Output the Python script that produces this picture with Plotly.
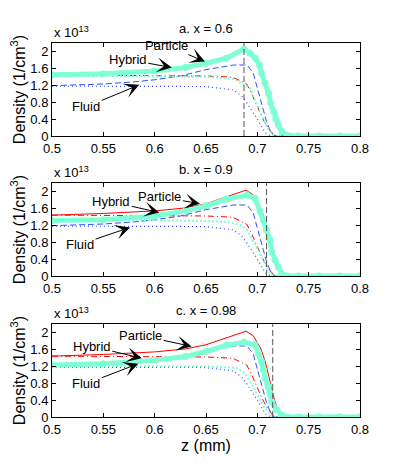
import plotly.graph_objects as go
from plotly.subplots import make_subplots

# Density profiles, units of 1e13 cm^-3

# particle model (red solid), same in every panel
particle_z = [0.5, 0.55, 0.6, 0.63, 0.65, 0.67, 0.689, 0.696, 0.703, 0.7075, 0.711, 0.714, 0.717, 0.72, 0.725, 0.73, 0.8]
particle_n = [1.44, 1.48, 1.54, 1.61, 1.71, 1.88, 2.03, 1.92, 1.64, 1.33, 0.97, 0.66, 0.38, 0.18, 0.02, 0.0, 0.0]

# particle second profile (red dash-dot)
particle2_z = [0.5, 0.6, 0.65, 0.676, 0.6896, 0.6945, 0.6994, 0.7042, 0.709, 0.714, 0.718, 0.8]
particle2_n = [1.44, 1.43, 1.42, 1.39, 1.23, 1.0, 0.72, 0.46, 0.24, 0.08, 0.01, 0.0]

# fluid model (blue dashed)
fluid_z = [0.5, 0.55, 0.58, 0.6, 0.625, 0.65, 0.677, 0.69, 0.696, 0.6994, 0.7026, 0.7058, 0.709, 0.7123, 0.7156, 0.72, 0.8]
fluid_n = [1.19, 1.23, 1.28, 1.33, 1.42, 1.57, 1.68, 1.68, 1.49, 1.21, 0.93, 0.62, 0.34, 0.14, 0.02, 0.0, 0.0]

# fluid second profile (blue dotted)
fluid2_z = [0.5, 0.6, 0.65, 0.6766, 0.6847, 0.6896, 0.6945, 0.6994, 0.7042, 0.7075, 0.711, 0.715, 0.8]
fluid2_n = [1.18, 1.18, 1.17, 1.09, 0.95, 0.79, 0.62, 0.42, 0.23, 0.08, 0.02, 0.0, 0.0]

# hybrid model (thick aquamarine markers), one per panel
hybrid_a_z = [0.5, 0.55, 0.6, 0.63, 0.65, 0.67, 0.687, 0.693, 0.698, 0.702, 0.704, 0.7075, 0.711, 0.713, 0.716, 0.718, 0.7205, 0.724, 0.729, 0.74, 0.76, 0.78, 0.8]
hybrid_a_n = [1.45, 1.47, 1.54, 1.62, 1.72, 1.84, 2.06, 1.96, 1.84, 1.68, 1.49, 1.25, 1.01, 0.78, 0.58, 0.40, 0.26, 0.10, 0.02, 0.0, 0.0, 0.0, 0.0]
hybrid_b_z = [0.5, 0.55, 0.6, 0.63, 0.65, 0.67, 0.69, 0.6977, 0.7026, 0.7058, 0.709, 0.7123, 0.714, 0.7172, 0.7204, 0.7237, 0.7286, 0.74, 0.76, 0.78, 0.8]
hybrid_b_n = [1.31, 1.33, 1.42, 1.54, 1.66, 1.82, 1.91, 1.84, 1.53, 1.33, 1.09, 0.85, 0.58, 0.38, 0.21, 0.06, 0.0, 0.0, 0.0, 0.0, 0.0]
hybrid_c_z = [0.5, 0.55, 0.6, 0.63, 0.65, 0.67, 0.687, 0.6977, 0.701, 0.704, 0.706, 0.7075, 0.7107, 0.7123, 0.714, 0.7188, 0.7237, 0.729, 0.74, 0.76, 0.78, 0.8]
hybrid_c_n = [1.23, 1.26, 1.34, 1.43, 1.55, 1.70, 1.77, 1.71, 1.51, 1.31, 1.12, 0.92, 0.72, 0.56, 0.36, 0.17, 0.05, 0.0, 0.0, 0.0, 0.0, 0.0]

# hybrid second profile (small aquamarine dots), one per panel
hybrid2_a_z = [0.5, 0.6, 0.65, 0.677, 0.693, 0.6977, 0.7026, 0.7075, 0.7123, 0.716, 0.8]
hybrid2_a_n = [1.43, 1.42, 1.40, 1.35, 1.13, 0.85, 0.58, 0.30, 0.10, 0.01, 0.0]
hybrid2_b_z = [0.5, 0.6, 0.65, 0.67, 0.683, 0.6896, 0.6945, 0.6994, 0.7042, 0.709, 0.7123, 0.716, 0.8]
hybrid2_b_n = [1.32, 1.32, 1.30, 1.28, 1.21, 1.09, 0.89, 0.66, 0.42, 0.21, 0.06, 0.0, 0.0]
hybrid2_c_z = [0.5, 0.6, 0.65, 0.6799, 0.688, 0.6929, 0.6977, 0.7026, 0.7075, 0.7123, 0.716, 0.8]
hybrid2_c_n = [1.21, 1.21, 1.20, 1.16, 1.04, 0.84, 0.64, 0.40, 0.21, 0.07, 0.0, 0.0]

panel_titles = ["a. x = 0.6", "b. x = 0.9", "c. x = 0.98"]
marker_z = [0.687, 0.709, 0.715]   # vertical dashed lines

x_ticks = [0.5, 0.55, 0.6, 0.65, 0.7, 0.75, 0.8]
x_ticktext = ["0.5", "0.55", "0.6", "0.65", "0.7", "0.75", "0.8"]
y_ticks = [0, 0.4, 0.8, 1.2, 1.6, 2.0]
y_ticktext = ["0", "0.4", "0.8", "1.2", "1.6", "2"]

# label arrows: (text, tip z, tip n, dx, dy)
labels = [
    [("Particle", 0.649, 1.76, -38, -16), ("Hybrid", 0.6166, 1.62, -44, -8), ("Fluid", 0.585, 1.21, -53, 22)],
    [("Particle", 0.6441, 1.71, -40, -7), ("Hybrid", 0.6045, 1.50, -48, -11), ("Fluid", 0.576, 1.15, -50, 17)],
    [("Particle", 0.636, 1.67, -51, -11), ("Hybrid", 0.5874, 1.39, -50, -12), ("Fluid", 0.584, 1.26, -52, 20)],
]

hybrids = [(hybrid_a_z, hybrid_a_n), (hybrid_b_z, hybrid_b_n), (hybrid_c_z, hybrid_c_n)]
hybrids2 = [(hybrid2_a_z, hybrid2_a_n), (hybrid2_b_z, hybrid2_b_n), (hybrid2_c_z, hybrid2_c_n)]

# page body has an 8px margin, so the figure is 8px smaller and shifted
OFF = 8
W, H = 399 - OFF, 469 - OFF


def px_x(p):
    return (p - OFF) / W


def px_y(p):
    return 1 - (p - OFF) / H


x_dom = [px_x(52), px_x(360)]
y_doms = [[px_y(136), px_y(43)], [px_y(276), px_y(183)], [px_y(417), px_y(324)]]
axis_tops = [43, 183, 324]

AQUA = "#7fffd4"
FONT = "Liberation Sans, Arial, sans-serif"

fig = make_subplots(rows=3, cols=1)

for i in range(3):
    r = i + 1
    fig.add_trace(go.Scatter(x=particle_z, y=particle_n, mode="lines",
                             line=dict(color="red", width=1)), row=r, col=1)
    fig.add_trace(go.Scatter(x=particle2_z, y=particle2_n, mode="lines",
                             line=dict(color="red", width=1, dash="6px,3px,1px,3px")), row=r, col=1)
    fig.add_trace(go.Scatter(x=fluid_z, y=fluid_n, mode="lines",
                             line=dict(color="#3050ff", width=1, dash="6px,3px")), row=r, col=1)
    fig.add_trace(go.Scatter(x=fluid2_z, y=fluid2_n, mode="lines",
                             line=dict(color="#3050ff", width=1.2, dash="1px,3px")), row=r, col=1)
    fig.add_trace(go.Scatter(x=hybrids2[i][0], y=hybrids2[i][1], mode="lines",
                             line=dict(color=AQUA, width=2, dash="2px,2px")), row=r, col=1)
    fig.add_trace(go.Scatter(x=hybrids[i][0], y=hybrids[i][1], mode="lines+markers",
                             line=dict(color=AQUA, width=5),
                             marker=dict(color=AQUA, size=7)), row=r, col=1)

    xa = "x" if i == 0 else f"x{r}"
    ya = "y" if i == 0 else f"y{r}"
    fig.add_shape(type="line", xref=xa, yref=f"{ya} domain",
                  x0=marker_z[i], x1=marker_z[i], y0=0, y1=1,
                  line=dict(color="#555555", width=1, dash="6px,3px"))

    # panel title and exponent
    fig.add_annotation(text=panel_titles[i], xref="paper", yref="paper",
                       x=(x_dom[0] + x_dom[1]) / 2, y=px_y(axis_tops[i] - 14),
                       xanchor="center", yanchor="middle", showarrow=False,
                       font=dict(size=13))
    fig.add_annotation(text="x 10<sup>13</sup>", xref="paper", yref="paper",
                       x=x_dom[0], y=px_y(axis_tops[i] - 11),
                       xanchor="left", yanchor="middle", showarrow=False,
                       font=dict(size=13))

    for text, tz, tn, dx, dy in labels[i]:
        fig.add_annotation(text=text, x=tz, y=tn, xref=xa, yref=ya,
                           ax=dx, ay=dy, showarrow=True,
                           arrowhead=3, arrowsize=2.5, arrowwidth=1,
                           arrowcolor="black", standoff=0,
                           font=dict(size=13))

    fig.update_xaxes(domain=x_dom, range=[0.5, 0.8], tickvals=x_ticks, ticktext=x_ticktext,
                     row=r, col=1)
    fig.update_yaxes(domain=y_doms[i], range=[0, 2.2], tickvals=y_ticks, ticktext=y_ticktext,
                     title_text="Density (1/cm<sup>3</sup>)", title_standoff=2,
                     row=r, col=1)

fig.update_xaxes(showline=True, linecolor="black", linewidth=1, mirror="ticks",
                 ticks="inside", ticklen=4, tickcolor="black", showgrid=False,
                 zeroline=False, automargin=False)
fig.update_yaxes(showline=True, linecolor="black", linewidth=1, mirror="ticks",
                 ticks="inside", ticklen=4, tickcolor="black", showgrid=False,
                 zeroline=False, automargin=False)
fig.update_xaxes(title_text="z (mm)", title_standoff=3, row=3, col=1)

fig.update_layout(width=W, height=H, margin=dict(l=0, r=0, t=0, b=0),
                  showlegend=False, plot_bgcolor="white", paper_bgcolor="white",
                  font=dict(family=FONT, size=13, color="black"))

fig.write_html("out.html")
